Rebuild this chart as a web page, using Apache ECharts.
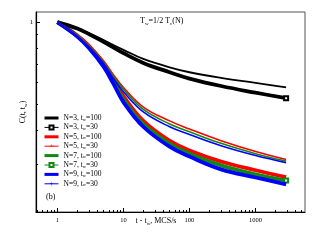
<!DOCTYPE html>
<html><head><meta charset="utf-8">
<script src="https://cdn.jsdelivr.net/npm/echarts@6/dist/echarts.min.js"></script>
<style>html,body{margin:0;padding:0;background:#fff}#c{width:315px;height:241px}</style>
</head><body><div id="c"></div>
<script>
// t - t_w (MCS/s)
const times = [1, 2, 3, 5, 7, 10, 20, 50, 100, 300, 1000, 2900];
// C(t, t_w)
const n3_tw100 = [1, 0.951, 0.910, 0.860, 0.825, 0.791, 0.732, 0.682, 0.654, 0.624, 0.598, 0.575];
const n3_tw30  = [1, 0.947, 0.904, 0.846, 0.808, 0.769, 0.708, 0.654, 0.620, 0.582, 0.550, 0.525];
const n5_tw100 = [1, 0.897, 0.825, 0.721, 0.642, 0.575, 0.487, 0.433, 0.404, 0.366, 0.334, 0.312];
const n5_tw30  = [1, 0.893, 0.818, 0.704, 0.615, 0.534, 0.433, 0.366, 0.337, 0.307, 0.285, 0.269];
const n7_tw100 = [1, 0.893, 0.818, 0.712, 0.631, 0.566, 0.477, 0.422, 0.395, 0.358, 0.328, 0.308];
const n7_tw30  = [1, 0.889, 0.811, 0.695, 0.605, 0.520, 0.422, 0.357, 0.328, 0.297, 0.275, 0.261];
const n9_tw100 = [1, 0.889, 0.811, 0.704, 0.621, 0.554, 0.467, 0.412, 0.386, 0.351, 0.323, 0.304];
const n9_tw30  = [1, 0.886, 0.804, 0.686, 0.595, 0.508, 0.412, 0.348, 0.320, 0.287, 0.268, 0.253];

const xTickLabels = [1, 10, 100, 1000];
const xMinorTicks = [0.5, 0.6, 0.7, 0.8, 0.9, 2, 3, 4, 5, 6, 7, 8, 9, 20, 30, 40, 50, 60, 70, 80, 90,
  200, 300, 400, 500, 600, 700, 800, 900, 2000, 3000, 4000, 5000];
const yTickLabels = [1];
const yMinorTicks = [0.3, 0.4, 0.5, 0.6, 0.7, 0.8, 0.9];
const xRange = [0.475, 5600];
const yRange = [0.2, 1.09];

const L = Math.log10;
const serif = 'Liberation Serif';
const chart = echarts.init(document.getElementById('c'));

function mk(name, vals, color, width, symbol, endMark, z) {
  return {
    type: 'line', name, z,
    data: times.map((t, i) => [L(t), L(vals[i])]),
    smooth: 0.4,
    symbol: symbol,
    symbolSize: (v, p) => (endMark && p.dataIndex === times.length - 1) ? 4 : 0,
    showSymbol: true,
    color: color,
    lineStyle: { color, width },
    itemStyle: { color },
    emphasis: { disabled: true },
    animation: false
  };
}
const plus = 'path://M4.5,0h1v10h-1zM0,4.5h10v1h-10z';
const upTick = 'path://M4.5,1h1v4.5h-1zM0,4.5h10v1h-10zM0,9.9h0.1v0.1h-0.1z';
const series = [
  mk('N=3, tw=100', n3_tw100, '#000000', 1.8, 'none', false, 5),
  mk('N=3, tw=30', n3_tw30, '#000000', 3.8, 'emptyRect', true, 4),
  mk('N=5, tw=100', n5_tw100, '#ff0000', 1.6, 'none', false, 5),
  mk('N=5, tw=30', n5_tw30, '#ff0000', 3.8, upTick, false, 2),
  mk('N=7, tw=100', n7_tw100, '#118811', 1.6, 'none', false, 5),
  mk('N=7, tw=30', n7_tw30, '#118811', 3.8, 'emptyRect', true, 3),
  mk('N=9, tw=100', n9_tw100, '#0000ff', 1.6, 'none', false, 5),
  mk('N=9, tw=30', n9_tw30, '#0000ff', 3.8, plus, false, 4)
];
const legendData = series.map(s => {
  const thick = s.name.indexOf('=100') > 0;
  return thick ? { name: s.name, itemStyle: { opacity: 0 }, lineStyle: { width: 3 } }
               : { name: s.name, lineStyle: { width: 1 } };
});
const richSub = {
  a: { fontFamily: serif, fontSize: 8, fontWeight: 'normal', color: '#000', lineHeight: 10 },
  s: { fontFamily: serif, fontSize: 5, fontWeight: 'normal', color: '#000', lineHeight: 10, verticalAlign: 'bottom' }
};

chart.setOption({
  animation: false,
  backgroundColor: '#fff',
  grid: { left: 36, right: 10, top: 12, bottom: 29, show: true, borderColor: '#555', borderWidth: 1 },
  title: {
    text: '{a|T}{s|w}{a|=1/2 T}{s|c}{a|(N)}',
    left: 140, top: 16, padding: 0,
    textStyle: { fontWeight: 'normal', rich: richSub }
  },
  legend: {
    orient: 'vertical', left: 43, top: 114, padding: 0,
    itemWidth: 14, itemHeight: 5, itemGap: 1.4,
    data: legendData,
    formatter: n => {
      const m = n.match(/^(N=\d, t)w(=\d+)$/);
      return '{a|' + m[1] + '}{s|w}{a|' + m[2] + '}';
    },
    textStyle: { rich: {
      a: { fontFamily: serif, fontSize: 7.5, color: '#000', lineHeight: 8 },
      s: { fontFamily: serif, fontSize: 4.5, color: '#000', lineHeight: 8, verticalAlign: 'bottom' }
    } }
  },
  graphic: [{ type: 'text', left: 46, top: 193, style: { text: '(b)', font: '8px "Liberation Serif"', fill: '#000' } }],
  xAxis: [{
    type: 'value', min: L(xRange[0]), max: L(xRange[1]),
    name: '{a|t - t}{s|w}{a|, MCS/s}', nameLocation: 'middle', nameGap: 4, nameMoveOverlap: false,
    nameTextStyle: { padding: [0, 29, 0, 0], rich: richSub },
    axisLine: { onZero: false, lineStyle: { color: '#000', width: 1.2 } },
    axisTick: { inside: true, length: 4, customValues: xTickLabels.map(L), lineStyle: { color: '#000' } },
    axisLabel: { customValues: xTickLabels.map(L), margin: 5, fontFamily: serif, fontSize: 6.5, color: '#000',
      formatter: v => String(Math.round(Math.pow(10, v))) },
    splitLine: { show: false }
  }, {
    type: 'value', min: L(xRange[0]), max: L(xRange[1]), position: 'bottom',
    axisLine: { show: false, onZero: false },
    axisTick: { inside: true, length: 2, customValues: xMinorTicks.map(L), lineStyle: { color: '#000' } },
    axisLabel: { show: false }, splitLine: { show: false }
  }],
  yAxis: [{
    type: 'value', min: L(yRange[0]), max: L(yRange[1]),
    name: '{a|C(t, t}{s|w}{a|)}', nameLocation: 'middle', nameGap: 8, nameRotate: 90, nameMoveOverlap: false,
    nameTextStyle: { rich: richSub },
    axisLine: { onZero: false, lineStyle: { color: '#000', width: 1.2 } },
    axisTick: { inside: true, length: 4, customValues: yTickLabels.map(L), lineStyle: { color: '#000' } },
    axisLabel: { customValues: yTickLabels.map(L), margin: 3, fontFamily: serif, fontSize: 6.5, color: '#000',
      formatter: v => String(Math.round(Math.pow(10, v))) },
    splitLine: { show: false }
  }, {
    type: 'value', min: L(yRange[0]), max: L(yRange[1]), position: 'left',
    axisLine: { show: false, onZero: false },
    axisTick: { inside: true, length: 2, customValues: yMinorTicks.map(L), lineStyle: { color: '#000' } },
    axisLabel: { show: false }, splitLine: { show: false }
  }],
  series: series
});
</script></body></html>
